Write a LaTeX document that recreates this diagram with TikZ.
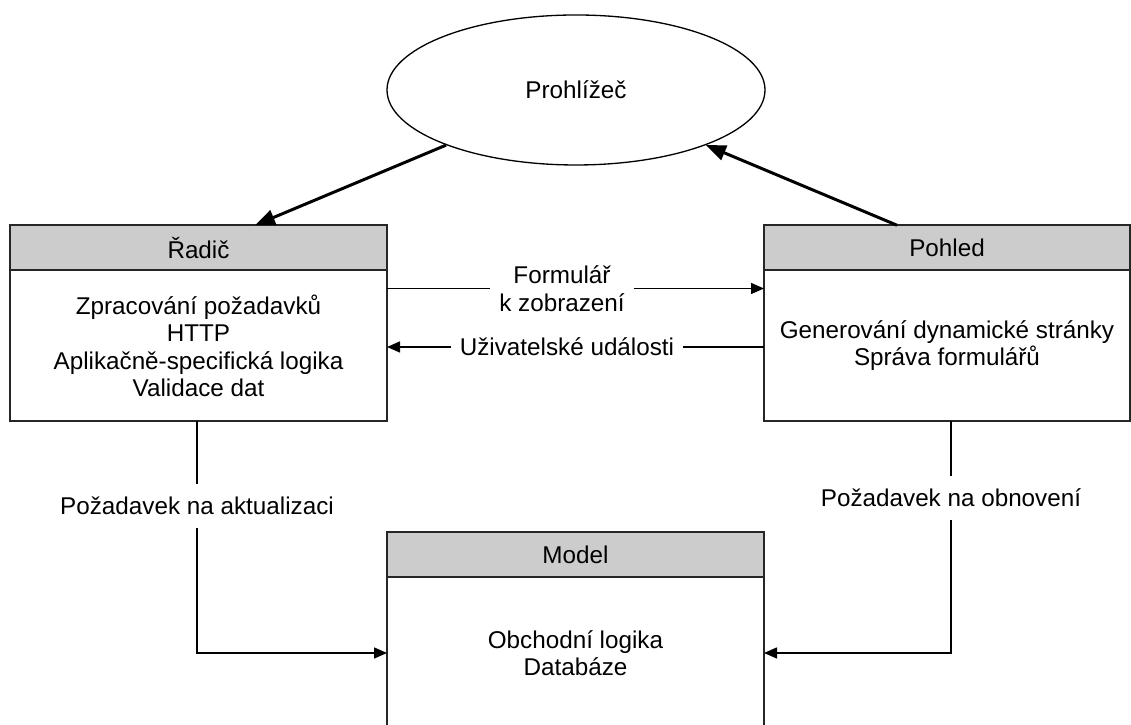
\documentclass[tikz,border=0pt]{standalone}
\usepackage{fontspec}
\setmainfont{Liberation Sans}
\usetikzlibrary{positioning,shapes.geometric,arrows.meta}
\begin{document}
\begin{tikzpicture}[font=\fontsize{13.8}{15.65}\selectfont,
  headbox/.style={draw=black!85,line width=0.85pt,fill=black!20,minimum height=0.9cm,inner sep=0pt,outer sep=0pt},
  bodybox/.style={draw=black!85,line width=0.85pt,fill=white,align=center,inner sep=0pt,outer sep=0pt},
  link/.style={line width=0.85pt},
  thinarrow/.style={link,-{Triangle[length=0.26cm,width=0.22cm]}},
  thickarrow/.style={line width=1.7pt,-{Triangle[length=0.4cm,width=0.31cm]}},
  flowtext/.style={align=center,inner xsep=0.17cm,inner ysep=0.25cm}]
\useasboundingbox (0,0) rectangle (22.62,14.5);
\node[ellipse,draw,line width=0.75pt,minimum width=7.56cm,minimum height=3cm] (browser) at (11.52,12.7) {Prohlížeč};
\node[headbox,minimum width=7.54cm] (radichead) at (3.97,9.545) {Řadič};
\node[bodybox,minimum width=7.54cm,minimum height=3.02cm,below=0pt of radichead] (radicbody) {Zpracování požadavků\\HTTP\\Aplikačně-specifická logika\\Validace dat};
\node[headbox,minimum width=7.32cm] (pohledhead) at (18.94,9.545) {Pohled};
\node[bodybox,minimum width=7.32cm,minimum height=3.02cm,below=0pt of pohledhead] (pohledbody) {Generování dynamické stránky\\Správa formulářů};
\node[headbox,minimum width=7.54cm] (modelhead) at (11.51,3.41) {Model};
\node[bodybox,minimum width=7.54cm,minimum height=3.04cm,below=0pt of modelhead] (modelbody) {Obchodní logika\\Databáze};
\node[flowtext] (formular) at (11.24,8.73) {Formulář\\k zobrazení};
\node[flowtext] (udalosti) at (11.34,7.56) {Uživatelské události};
\node[flowtext] (aktual) at (3.94,4.38) {Požadavek na aktualizaci};
\node[flowtext] (obnov) at (19.02,4.54) {Požadavek na obnovení};
\draw[thickarrow] (browser.203) -- ([xshift=4.9cm]radichead.north west);
\draw[thickarrow] ([xshift=2.66cm]pohledhead.north west) -- (browser.337);
\draw[link] (radicbody.east |- formular) -- (formular.west);
\draw[thinarrow] (formular.east) -- (pohledbody.west |- formular);
\draw[link] (pohledbody.west |- udalosti) -- (udalosti.east);
\draw[thinarrow] (udalosti.west) -- (radicbody.east |- udalosti);
\draw[link] (radicbody.south -| aktual) -- (aktual.north);
\draw[thinarrow] (aktual.south) |- (modelbody.west);
\draw[link] (pohledbody.south -| obnov) -- (obnov.north);
\draw[thinarrow] (obnov.south) |- (modelbody.east);
\end{tikzpicture}
\end{document}
